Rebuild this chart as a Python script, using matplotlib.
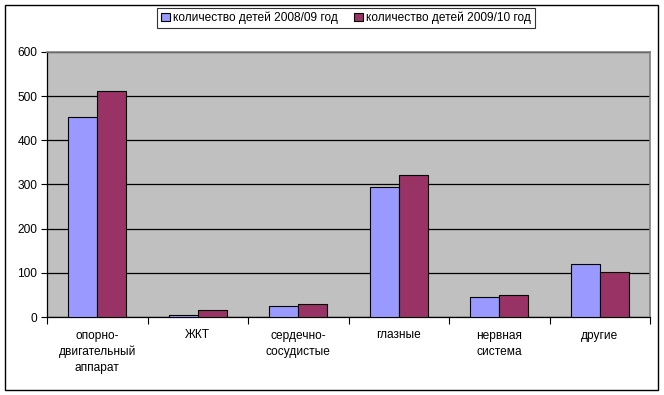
import numpy as np
import matplotlib.pyplot as plt
from matplotlib.patches import Rectangle

categories = ["опорно-\nдвигательный\nаппарат", "ЖКТ", "сердечно-\nсосудистые",
              "глазные", "нервная\nсистема", "другие"]
kids_2008 = [453, 5, 25, 294, 45, 119]
kids_2009 = [511, 15, 29, 321, 49, 103]
series_labels = ["количество детей 2008/09 год", "количество детей 2009/10 год"]

plt.rcParams['font.family'] = ['Liberation Sans', 'DejaVu Sans']

W, H = 664, 395
fig = plt.figure(figsize=(W / 100, H / 100), dpi=100)
ax = fig.add_axes([47 / W, 1 - 317 / H, (650 - 47) / W, (317 - 52) / H])

x = np.arange(len(categories))
bw = 0.29
ax.bar(x - bw / 2, kids_2008, bw, color="#9999FF", edgecolor="black", linewidth=0.8,
       label=series_labels[0], zorder=3)
ax.bar(x + bw / 2, kids_2009, bw, color="#993366", edgecolor="black", linewidth=0.8,
       label=series_labels[1], zorder=3)

ax.set_facecolor("#C0C0C0")
ax.set_xlim(-0.5, len(categories) - 0.5)
ax.set_ylim(0, 600)
ax.set_yticks(range(0, 601, 100))
ax.yaxis.grid(True, color="black", linewidth=0.9, zorder=1)
ax.set_axisbelow(True)

# category ticks sit between groups, labels in the middle
ax.set_xticks(np.arange(-0.5, len(categories)), minor=False)
ax.set_xticklabels([])
ax.set_xticks(x, minor=True)
ax.set_xticklabels(categories, minor=True, fontsize=8.6, linespacing=1.45)
ax.tick_params(axis="x", which="minor", length=0, pad=9)
ax.tick_params(axis="x", which="major", length=5, direction="out", width=0.8)
ax.tick_params(axis="y", length=4, direction="out", width=0.8, labelsize=8.6, pad=3)

for side in ["top", "right"]:
    ax.spines[side].set_color("#808080")
    ax.spines[side].set_linewidth(1.2)
for side in ["left", "bottom"]:
    ax.spines[side].set_color("black")
    ax.spines[side].set_linewidth(0.9)

leg = fig.legend(loc="center", bbox_to_anchor=(346 / W, 1 - 18 / H), ncol=2, fontsize=8.6,
                 frameon=True, fancybox=False, handlelength=0.75, handleheight=0.75,
                 handletextpad=0.3, columnspacing=1.3, borderpad=0.35)
leg.get_frame().set_edgecolor("black")
leg.get_frame().set_linewidth(0.8)

fig.patches.append(Rectangle((5 / W, 1 - 390 / H), 653 / W, 385 / H, transform=fig.transFigure,
                             fill=False, edgecolor="black", linewidth=1.0))

fig.savefig("out.png", dpi=100)
